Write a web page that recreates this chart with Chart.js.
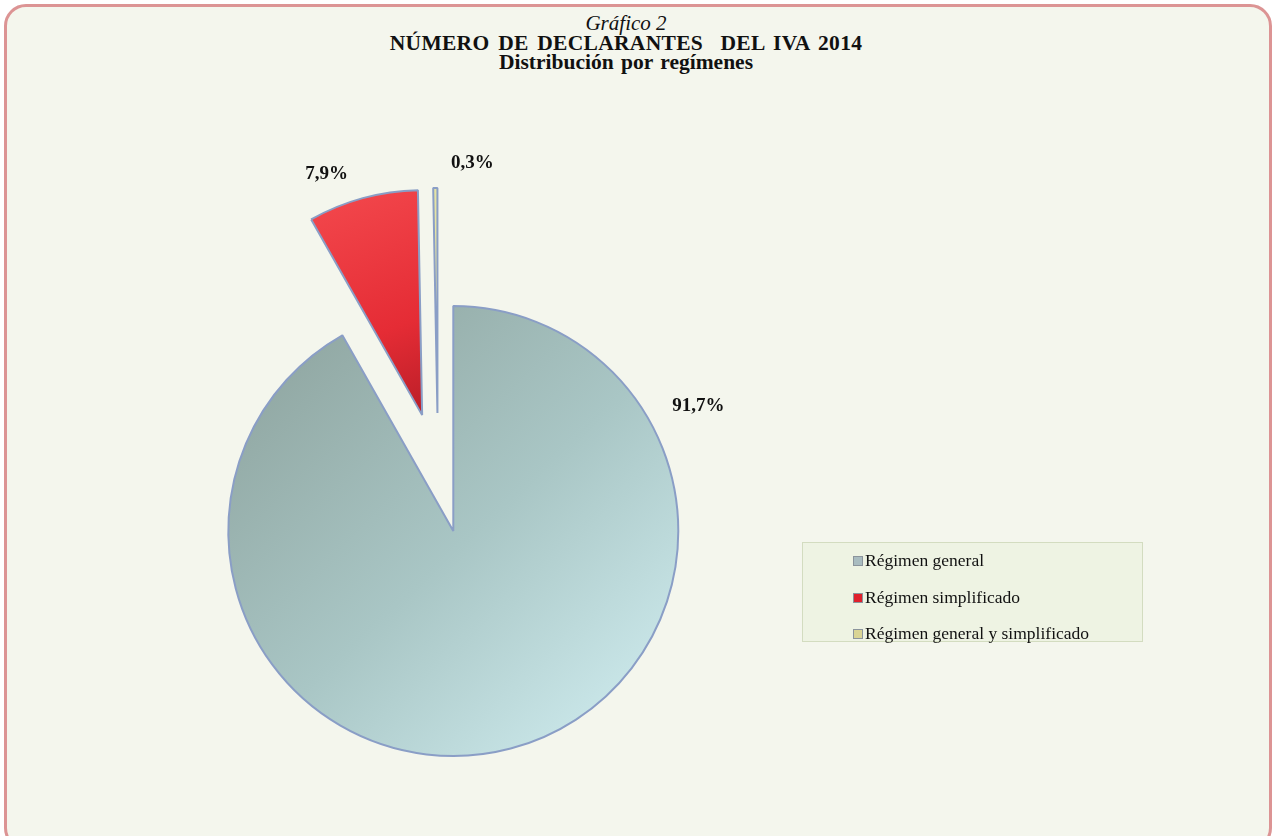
<!DOCTYPE html>
<html>
<head>
<meta charset="utf-8">
<script src="https://cdn.jsdelivr.net/npm/chart.js@4"></script>
<style>
    body { margin: 0; background: #ffffff; width: 1274px; height: 836px; overflow: hidden; position: relative; font-family: "Liberation Serif", "Times New Roman", serif; }
    #frame { position: absolute; left: 4px; top: 4px; width: 1262px; height: 840px; border: 3px solid #dc9494; border-radius: 22px; background: #f4f6ed; }
    #titles { position: absolute; left: 0; width: 1252px; top: 14px; text-align: center; color: #111; }
    #titles div { line-height: 19.5px; white-space: pre; }
    #titles .t1 { font-style: italic; font-size: 21px; }
    #titles .t2 { font-weight: bold; font-size: 21.5px; word-spacing: 3px; letter-spacing: 0.3px; }
    #titles .t3 { font-weight: bold; font-size: 21.5px; word-spacing: 2px; }
    #chartWrap { position: absolute; left: 0; top: 0; width: 1274px; height: 836px; }
    #legendBox { position: absolute; left: 802px; top: 542px; width: 339px; height: 98px; background: #eef3e3; border: 1px solid #d3dcc0; }
    .item { position: absolute; left: 50px; font-size: 17.5px; color: #111; line-height: 18px; white-space: nowrap; }
    .item span.box { display: inline-block; width: 8px; height: 8px; border: 1px solid #8b949c; margin-right: 2px; vertical-align: 0px; }
</style>
</head>
<body>
<div id="frame"></div>
<div id="titles"><div class="t1">Gráfico 2</div><div class="t2">NÚMERO DE DECLARANTES  DEL IVA 2014</div><div class="t3">Distribución por regímenes</div></div>
<div id="chartWrap"><canvas id="pieChart" width="1274" height="836"></canvas></div>
<div id="legendBox"></div>

<script>
// data
const categories = ['Régimen general', 'Régimen simplificado', 'Régimen general y simplificado'];
const shares = [91.7, 7.9, 0.3];
const legendColors = ['#a9bcc0', '#e0202c', '#d9d494'];

const PIE_RADIUS = 225;
const EXPLODE = 60; // every slice pulled out from the centre by this, px

function pctLabel(v) {
    return v.toFixed(1).replace('.', ',') + '%';
}

// fill for each slice, gradients to fake the excel bevel look
function sliceFill(context) {
    const ctx = context.chart.ctx;
    const i = context.dataIndex;
    if (i === 0) {
        const g = ctx.createLinearGradient(260, 340, 650, 760);
        g.addColorStop(0, '#8fa5a0');
        g.addColorStop(0.5, '#a9c6c5');
        g.addColorStop(1, '#d2eff2');
        return g;
    }
    if (i === 1) {
        const g = ctx.createLinearGradient(330, 200, 420, 420);
        g.addColorStop(0, '#f2464b');
        g.addColorStop(0.6, '#e52c35');
        g.addColorStop(1, '#b81d27');
        return g;
    }
    return '#e6e4a4';
}

// explode slices like excel: move each arc along its mid angle
// (chart.js "offset" also shrinks the angles, so not used here)
const explodeSlices = {
    id: 'explodeSlices',
    afterDatasetUpdate(chart) {
        const meta = chart.getDatasetMeta(0);
        meta.data.forEach(arc => {
            const mid = (arc.startAngle + arc.endAngle) / 2;
            arc.x += EXPLODE * Math.cos(mid);
            arc.y += EXPLODE * Math.sin(mid);
        });
    }
};

const labelPlugin = {
    id: 'pctLabels',
    afterDatasetsDraw(chart) {
        const ctx = chart.ctx;
        const meta = chart.getDatasetMeta(0);
        ctx.save();
        ctx.font = 'bold 19px "Liberation Serif"';
        ctx.fillStyle = '#111';
        ctx.textBaseline = 'middle';
        meta.data.forEach((arc, i) => {
            const p = arc.getProps(['x', 'y', 'startAngle', 'endAngle', 'outerRadius'], true);
            const r = p.outerRadius;
            const mid = (p.startAngle + p.endAngle) / 2;
            const span = p.endAngle - p.startAngle;
            const text = pctLabel(shares[i]);
            let lx, ly;
            if (span > Math.PI) {
                // big slice: label sits outside the upper right part of the arc
                const a = p.startAngle + Math.PI * 0.35;
                lx = p.x + (r + 50) * Math.cos(a);
                ly = p.y + (r + 50) * Math.sin(a);
                ctx.textAlign = 'center';
            } else {
                lx = p.x + (r + 25) * Math.cos(mid);
                ly = p.y + (r + 25) * Math.sin(mid);
                if (Math.cos(mid) < -0.1) {
                    ctx.textAlign = 'right';
                    lx -= 8;
                } else {
                    ctx.textAlign = 'left';
                    lx += 16;
                }
            }
            ctx.fillText(text, lx, ly);
        });
        ctx.restore();
    }
};

function buildLegend() {
    const box = document.getElementById('legendBox');
    categories.forEach((name, i) => {
        const div = document.createElement('div');
        div.className = 'item';
        div.style.top = (8 + i * 36.5) + 'px';
        div.innerHTML = `<span class="box" style="background:${legendColors[i]}"></span>${name}`;
        box.appendChild(div);
    });
}

window.onload = function () {
    buildLegend();

    const ctx = document.getElementById('pieChart').getContext('2d');
    new Chart(ctx, {
        type: 'pie',
        data: {
            labels: categories,
            datasets: [{
                data: shares,
                backgroundColor: sliceFill,
                borderColor: '#8a9ec6',
                borderWidth: 2
            }]
        },
        options: {
            responsive: false,
            animation: false,
            events: [],
            radius: PIE_RADIUS,
            layout: { padding: { left: 0, right: 398, top: 110, bottom: 0 } },
            plugins: {
                legend: { display: false },
                tooltip: { enabled: false },
                title: { display: false }
            }
        },
        plugins: [explodeSlices, labelPlugin]
    });
};
</script>
</body>
</html>
